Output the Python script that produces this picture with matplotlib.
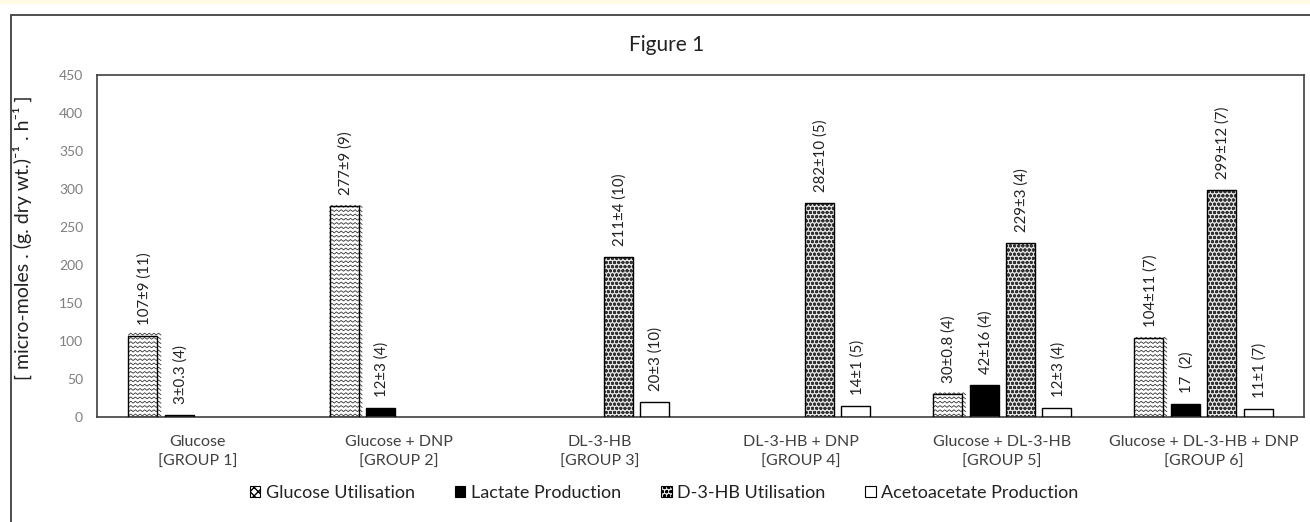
import matplotlib
matplotlib.use("Agg")
import matplotlib.pyplot as plt
from matplotlib.patches import Rectangle, Patch
import numpy as np

plt.rcParams['font.family'] = ['Lato', 'DejaVu Sans']
plt.rcParams['hatch.linewidth'] = 1.0

groups = ["Glucose\n[GROUP 1]", "Glucose + DNP\n[GROUP 2]", "DL-3-HB\n[GROUP 3]",
          "DL-3-HB + DNP\n[GROUP 4]", "Glucose + DL-3-HB\n[GROUP 5]",
          "Glucose + DL-3-HB + DNP\n[GROUP 6]"]
series_names = ["Glucose Utilisation", "Lactate Production", "D-3-HB Utilisation",
                "Acetoacetate Production"]
glucose = [107, 277, None, None, 30, 104]
lactate = [3, 12, None, None, 42, 17]
d3hb = [None, None, 211, 282, 229, 299]
aceto = [None, None, 20, 14, 12, 11]
glucose_lbl = ["107±9 (11)", "277±9 (9)", None, None, "30±0.8 (4)", "104±11 (7)"]
lactate_lbl = ["3±0.3 (4)", "12±3 (4)", None, None, "42±16 (4)", "17  (2)"]
d3hb_lbl = [None, None, "211±4 (10)", "282±10 (5)", "229±3 (4)", "299±12 (7)"]
aceto_lbl = [None, None, "20±3 (10)", "14±1 (5)", "12±3 (4)", "11±1 (7)"]
yticks = [0, 50, 100, 150, 200, 250, 300, 350, 400, 450]

W, H = 1310, 522
fig = plt.figure(figsize=(W / 100, H / 100), dpi=100)
fig.patch.set_facecolor('white')
# top yellow strip and outer frame
fig.patches.append(Rectangle((0, 1 - 4 / H), 1, 4 / H, transform=fig.transFigure,
                             facecolor='#fffbe6', edgecolor='none'))
fig.patches.append(Rectangle((11 / W, -0.2), 1.5, 1.2 - 15 / H, transform=fig.transFigure,
                             fill=False, edgecolor='#404040', lw=1.3))

ax = fig.add_axes([97 / W, 1 - 417 / H, (1304 - 97) / W, (417 - 75) / H])
for s in ax.spines.values():
    s.set_color('#404040')
    s.set_linewidth(1.2)

x = np.arange(len(groups))
bw = 0.144
step = 0.181
offs = [-1.5 * step, -0.5 * step, 0.5 * step, 1.5 * step]
data = [glucose, lactate, d3hb, aceto]
lbls = [glucose_lbl, lactate_lbl, d3hb_lbl, aceto_lbl]
styles = [dict(facecolor='white', hatch=None),
          dict(facecolor='black', hatch=None),
          dict(facecolor='#e4e4e4', hatch='oooo'),
          dict(facecolor='white', hatch=None)]

for si, (vals, lb, st) in enumerate(zip(data, lbls, styles)):
    for gi, v in enumerate(vals):
        if v is None:
            continue
        xc = x[gi] + offs[si]
        bars = ax.bar(xc, v, width=bw, edgecolor='#333333', linewidth=0, zorder=2, **st)
        bar = bars[0]
        if si == 0:
            # wave texture clipped to the bar
            x0 = bar.get_x()
            xs = np.arange(x0, x0 + bar.get_width() + 0.02, 0.0115)
            zig = np.where(np.arange(len(xs)) % 2 == 0, 0.0, 2.4)
            ys0 = 1.5
            while ys0 < v + 3:
                ax.plot(xs, ys0 + zig, color='#333333', lw=0.6, zorder=2.5,
                        clip_path=bar, solid_joinstyle='miter')
                ys0 += 5.6
        # outline on top
        ax.bar(xc, v, width=bw, fill=False, edgecolor='black', linewidth=1.0, zorder=3)
        ax.annotate(lb[gi], (xc, v), xytext=(1, 8), textcoords='offset points',
                    rotation=90, ha='center', va='bottom', fontsize=10.8, color='#222222')

ax.set_xlim(-0.5, 5.5)
ax.set_ylim(0, 450)
ax.set_yticks(yticks)
ax.set_xticks(x)
ax.set_xticklabels(groups, fontsize=11.5, color='#404040', linespacing=1.5)
ax.tick_params(axis='y', length=0, pad=10, labelsize=10, labelcolor='#7f7f7f')
ax.tick_params(axis='x', length=0, pad=13)
ax.set_ylabel("[ micro-moles . (g. dry wt.)⁻¹ . h⁻¹ ]", fontsize=14, color='#222222')
ax.yaxis.set_label_coords((32 - 97) / (1304 - 97), (417 - 238) / (417 - 75))

fig.text(667 / W, 1 - 45 / H, "Figure 1", ha='center', va='center', fontsize=15,
         color='#222222')

handles = [Patch(facecolor='white', edgecolor='black', hatch='xxxx', lw=0.8),
           Patch(facecolor='black', edgecolor='black', lw=0.8),
           Patch(facecolor='#e4e4e4', edgecolor='black', hatch='oooo', lw=0.8),
           Patch(facecolor='white', edgecolor='black', lw=0.8)]
fig.legend(handles, series_names, loc='center', bbox_to_anchor=(664 / W, 1 - 493 / H),
           ncol=4, frameon=False, fontsize=13, handlelength=0.6, handleheight=0.6,
           handletextpad=0.3, columnspacing=2.2, labelcolor='#222222')

fig.savefig("out.png", dpi=100)
